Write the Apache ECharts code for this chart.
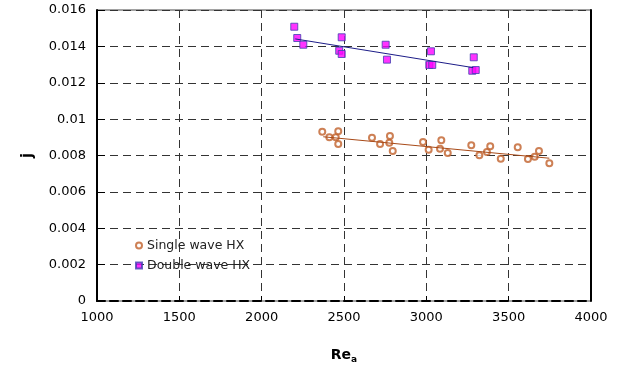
<!DOCTYPE html>
<html>
<head>
<meta charset="utf-8">
<script src="https://cdn.jsdelivr.net/npm/echarts@6/dist/echarts.min.js"></script>
<style>
  html, body { margin: 0; padding: 0; background: #fff; }
  #chart { width: 620px; height: 369px; }
</style>
</head>
<body>
<div id="chart"></div>
<script>
// Single wave HX (hollow circles)
const singleRe = [2368, 2411, 2450, 2465, 2465, 2670, 2719, 2779, 2775, 2796, 2980, 3014, 3091, 3083, 3130,
  3273, 3322, 3368, 3388, 3452, 3555, 3617, 3658, 3684, 3747];
const singleJ = [0.00931, 0.0090, 0.0090, 0.00933, 0.00863, 0.00898, 0.00863, 0.00907, 0.0087, 0.00825, 0.00874,
  0.00832, 0.00884, 0.00837, 0.00814, 0.00856, 0.00801, 0.00819, 0.00851, 0.00782, 0.00845, 0.00781, 0.00793,
  0.00825, 0.00757];

// Double wave HX (filled squares)
const doubleRe = [2198, 2216, 2253, 2486, 2471, 2486, 2753, 2761, 3028, 3018, 3036, 3288, 3279, 3300];
const doubleJ = [0.01508, 0.01446, 0.01409, 0.0145, 0.01376, 0.01358, 0.01409, 0.01327, 0.01373, 0.01298,
  0.01298, 0.0134, 0.01266, 0.0127];

// trend line end points
const singleFitRe = [2374, 3747];
const singleFitJ = [0.00903, 0.00785];
const doubleFitRe = [2204, 3285];
const doubleFitJ = [0.01441, 0.01283];

const seriesNames = ['Single wave HX', 'Double wave HX'];

const zip = (xs, ys) => xs.map((x, i) => [x, ys[i]]);
const font = 'DejaVu Sans';

const chart = echarts.init(document.getElementById('chart'), null, { renderer: 'canvas' });

const option = {
  animation: false,
  backgroundColor: '#fff',
  textStyle: { fontFamily: font },
  grid: {
    left: 97, right: 29, top: 10, bottom: 68,
    show: true, borderColor: '#444', borderWidth: 1
  },
  legend: {
    data: seriesNames,
    orient: 'vertical',
    left: 130, top: 234,
    itemWidth: 6, itemHeight: 6, itemGap: 7,
    textStyle: { fontFamily: font, fontSize: 12.5, color: '#222' }
  },
  xAxis: {
    type: 'value',
    min: 1000, max: 4000, interval: 500,
    name: 'Re{sub|a}',
    nameLocation: 'middle',
    nameGap: 46,
    nameTextStyle: {
      fontFamily: font, fontSize: 14, fontWeight: 'bold', color: '#000',
      rich: { sub: { fontFamily: font, fontSize: 9, fontWeight: 'bold', color: '#000', verticalAlign: 'bottom', padding: [8, 0, 0, 0] } }
    },
    axisLine: { lineStyle: { color: '#000', width: 2, type: [8, 5] } },
    axisTick: { inside: true, length: 5, lineStyle: { color: '#000' } },
    axisLabel: { fontFamily: font, fontSize: 13, color: '#000', margin: 10, formatter: v => String(v) },
    splitLine: { lineStyle: { color: '#333', type: [8, 5], width: 1 } }
  },
  yAxis: [{
    type: 'value',
    min: 0, max: 0.016, interval: 0.002,
    name: 'j',
    nameLocation: 'middle',
    nameGap: 61,
    nameTextStyle: { fontFamily: font, fontSize: 15, fontWeight: 'bold', color: '#000' },
    axisLine: { show: true, lineStyle: { color: '#000', width: 2 } },
    axisTick: { show: true, inside: true, length: 8, lineStyle: { color: '#000' } },
    axisLabel: { fontFamily: font, fontSize: 13, color: '#000', margin: 11 },
    splitLine: { lineStyle: { color: '#333', type: [8, 5], width: 1 } }
  }, {
    type: 'value',
    position: 'right',
    min: 0, max: 0.016, interval: 0.002,
    axisLine: { show: true, lineStyle: { color: '#000', width: 2 } },
    axisTick: { show: false },
    axisLabel: { show: false },
    splitLine: { show: false }
  }],
  series: [
    {
      name: seriesNames[0],
      type: 'scatter',
      symbol: 'emptyCircle',
      symbolSize: 6,
      itemStyle: { color: '#C0602A', borderWidth: 1 },
      data: zip(singleRe, singleJ),
      z: 3
    },
    {
      name: seriesNames[1],
      type: 'scatter',
      symbol: 'rect',
      symbolSize: 7,
      itemStyle: { color: '#FF00FF', borderColor: '#4040B0', borderWidth: 1 },
      data: zip(doubleRe, doubleJ),
      z: 3
    },
    {
      type: 'line',
      data: zip(singleFitRe, singleFitJ),
      symbol: 'none',
      lineStyle: { color: '#A84A18', width: 1 },
      z: 4
    },
    {
      type: 'line',
      data: zip(doubleFitRe, doubleFitJ),
      symbol: 'none',
      lineStyle: { color: '#1C1C88', width: 1 },
      z: 4
    }
  ]
};

chart.setOption(option);
</script>
</body>
</html>
